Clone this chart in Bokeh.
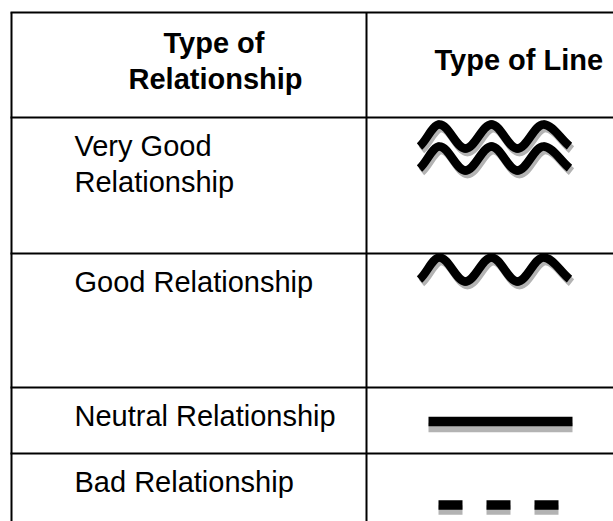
from bokeh.plotting import figure
from bokeh.models import Range1d
from bokeh.embed import file_html
from bokeh.resources import INLINE
from bokeh.core.properties import value

# ---------------- data ----------------
header_left = ["Type of", "Relationship"]
header_right = "Type of Line"
relationships = ["Very Good Relationship", "Good Relationship",
                 "Neutral Relationship", "Bad Relationship"]
label_lines = [["Very Good", "Relationship"], ["Good Relationship"],
               ["Neutral Relationship"], ["Bad Relationship"]]
line_types = ["double wave", "wave", "solid", "dashed"]

# ---------------- layout (page pixels) ----------------
W, H = 613, 521
FONT = "Liberation Sans"
FSIZE = "29px"
GRID_Y = [12, 117, 253, 387, 453]      # horizontal rules
LEFT_X, DIV_X, RIGHT_X = 11, 366, 613
LABEL_X = 74
LABEL_BASE = 28                         # baseline below row rule
LINE_GAP = 36
HEAD_LEFT_X = [163, 128]
HEAD_LEFT_BASE = [42, 78]
HEAD_RIGHT_X, HEAD_RIGHT_BASE = 434, 59
SHADOW = "#b3b3b3"

# wave glyph shape (relative), amplitude in px
WAVE_X = [0, 20, 46, 72, 98, 124, 150]
WAVE_Y = [0.83, -1, 1, -1, 1, -1, 0.8]
WAVE_S = [-0.8, 0, 0, 0, 0, 0, 0.8]
WAVE_AMP = 12
WAVE_X0 = 419
WAVE_CENTERS = {"double wave": [136, 158], "wave": [269]}
WAVE_W = 8.5
WAVE_SHADOW = (2, 3.5)

BAR_X = (428, 572)
BAR_W = 9.7
BAR_SHADOW = 6
DASH_X = (438, 558)
DASH_PAT = "24 24"
DASH_SHADOW = 5

p = figure(width=W, height=H, x_range=Range1d(0, W), y_range=Range1d(H, 0),
           output_backend="svg", toolbar_location=None, min_border=0,
           x_axis_location=None, y_axis_location=None)
p.grid.visible = False
p.outline_line_color = None
p.background_fill_color = "white"
p.border_fill_color = "white"

# ---- table rules ----
p.segment(x0=[LEFT_X - 1] * len(GRID_Y), x1=[RIGHT_X] * len(GRID_Y), y0=GRID_Y, y1=GRID_Y,
          line_color="black", line_width=2)
p.segment(x0=[LEFT_X, DIV_X], x1=[LEFT_X, DIV_X], y0=[GRID_Y[0], GRID_Y[0]], y1=[H, H],
          line_color="black", line_width=2)

# ---- header ----
p.text(x=HEAD_LEFT_X, y=HEAD_LEFT_BASE, text=header_left, text_font=value(FONT),
       text_font_size=value(FSIZE), text_font_style="bold", text_baseline="alphabetic",
       text_align="left", text_color="black")
p.text(x=[HEAD_RIGHT_X], y=[HEAD_RIGHT_BASE], text=[header_right], text_font=value(FONT),
       text_font_size=value(FSIZE), text_font_style="bold", text_baseline="alphabetic",
       text_align="left", text_color="black")

# ---- row labels ----
lx, ly, lt = [], [], []
for i, lines in enumerate(label_lines):
    for j, t in enumerate(lines):
        lx.append(LABEL_X)
        ly.append(GRID_Y[i + 1] + LABEL_BASE + j * LINE_GAP)
        lt.append(t)
p.text(x=lx, y=ly, text=lt, text_font=value(FONT), text_font_size=value(FSIZE),
       text_baseline="alphabetic", text_align="left", text_color="black")


def wave_segments(x0, yc, dx=0.0, dy=0.0, k=0.36):
    pts = [(x0 + a + dx, yc + b * WAVE_AMP + dy, s) for a, b, s in zip(WAVE_X, WAVE_Y, WAVE_S)]
    segs = dict(x0=[], y0=[], x1=[], y1=[], cx0=[], cy0=[], cx1=[], cy1=[])
    for (xa, ya, sa), (xb, yb, sb) in zip(pts[:-1], pts[1:]):
        d = xb - xa
        segs["x0"].append(xa); segs["y0"].append(ya)
        segs["x1"].append(xb); segs["y1"].append(yb)
        segs["cx0"].append(xa + d * k); segs["cy0"].append(ya + sa * d * k)
        segs["cx1"].append(xb - d * k); segs["cy1"].append(yb - sb * d * k)
    return segs


def draw_wave(segs, color):
    n = len(segs["x0"])
    ends = {k: [v[0], v[-1]] for k, v in segs.items()}
    inner = {k: v[1:n - 1] for k, v in segs.items()}
    p.bezier(**ends, line_color=color, line_width=WAVE_W, line_cap="butt")
    p.bezier(**inner, line_color=color, line_width=WAVE_W, line_cap="round")


waves = [(lt_, yc) for lt_ in line_types if lt_ in WAVE_CENTERS for yc in WAVE_CENTERS[lt_]]
for lt_, yc in waves:
    draw_wave(wave_segments(WAVE_X0, yc, *WAVE_SHADOW), SHADOW)
for lt_, yc in waves:
    draw_wave(wave_segments(WAVE_X0, yc), "black")

for i, lt_ in enumerate(line_types):
    top = GRID_Y[i + 1]
    if lt_ == "solid":
        yc = (top + GRID_Y[i + 2]) / 2 + 1
        p.segment(x0=[BAR_X[0]], x1=[BAR_X[1]], y0=[yc + BAR_SHADOW], y1=[yc + BAR_SHADOW],
                  line_color=SHADOW, line_width=BAR_W, line_cap="butt")
        p.segment(x0=[BAR_X[0]], x1=[BAR_X[1]], y0=[yc], y1=[yc],
                  line_color="black", line_width=BAR_W, line_cap="butt")
    elif lt_ == "dashed":
        yc = top + 51.5
        p.segment(x0=[DASH_X[0]], x1=[DASH_X[1]], y0=[yc + DASH_SHADOW], y1=[yc + DASH_SHADOW],
                  line_color=SHADOW, line_width=BAR_W, line_cap="butt", line_dash=DASH_PAT)
        p.segment(x0=[DASH_X[0]], x1=[DASH_X[1]], y0=[yc], y1=[yc],
                  line_color="black", line_width=BAR_W, line_cap="butt", line_dash=DASH_PAT)

open("out.html", "w").write(file_html(p, INLINE))
